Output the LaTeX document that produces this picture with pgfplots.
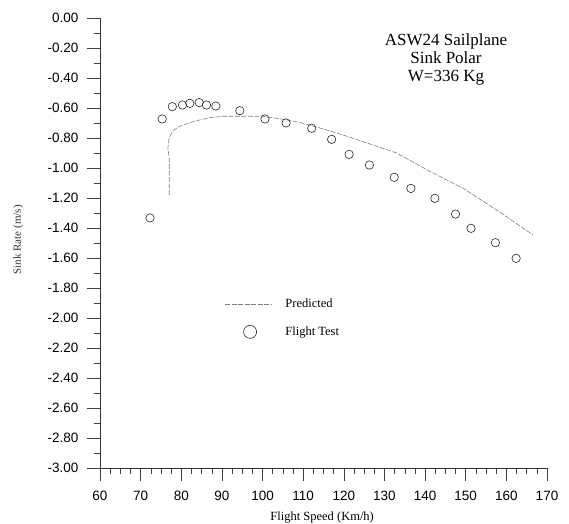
\documentclass[border=0pt]{standalone}
\usepackage{pgfplots}
\pgfplotsset{compat=1.18}
\usepackage{fontspec}
\setmainfont{Liberation Serif}
\newfontfamily\arialfont{Liberation Sans}
\usetikzlibrary{calc}

\pgfplotstableread{
speed sink
77.05 -1.18
77.05 -0.93
76.70 -0.87
77.00 -0.80
78.00 -0.75
79.70 -0.72
83.00 -0.69
87.00 -0.664
90.30 -0.655
100.0 -0.655
105.0 -0.675
109.0 -0.695
115.0 -0.74
121.0 -0.79
127.0 -0.845
133.0 -0.90
141.0 -1.02
149.4 -1.136
157.6 -1.28
166.5 -1.445
}\predicted

\pgfplotstableread{
speed sink
72.3 -1.333
75.3 -0.673
77.8 -0.591
80.3 -0.580
82.1 -0.569
84.4 -0.564
86.2 -0.580
88.5 -0.587
94.4 -0.618
100.6 -0.673
105.8 -0.700
112.1 -0.735
117.0 -0.809
121.3 -0.909
126.3 -0.980
132.4 -1.062
136.5 -1.136
142.4 -1.202
147.5 -1.307
151.3 -1.402
157.3 -1.498
162.4 -1.602
}\flighttest

\begin{document}
\begin{tikzpicture}
\begin{axis}[
    scale only axis,
    width=447pt, height=450pt,
    xmin=60, xmax=170,
    ymin=-3, ymax=0,
    axis lines=left,
    axis line style={-, black!80, line width=0.6pt},
    tick align=outside,
    xtick={60,70,...,170},
    ytick={-3,-2.8,...,0.01},
    minor x tick num=3,
    minor y tick num=1,
    major tick length=13pt,
    minor tick length=6pt,
    tick style={black!75, line width=0.5pt},
    /pgf/number format/assume math mode=true,
    ticklabel style={font=\arialfont\fontsize{13.5}{13.5}\selectfont},
    yticklabel style={xshift=-5pt, /pgf/number format/.cd, fixed, fixed zerofill, precision=2},
    xticklabel style={yshift=-7pt},
    xlabel={Flight Speed (Km/h)},
    xlabel style={at={(axis description cs:0.497,-0.109)}, anchor=center,
        font=\fontsize{12.5}{13}\selectfont},
    ylabel={Sink Rate (m/s)},
    ylabel style={at={(axis description cs:-0.183,0.507)}, anchor=center,
        font=\fontsize{11}{12}\selectfont, black!80},
    clip=false,
    legend style={at={(axis description cs:0.272,0.383)}, anchor=north west,
        draw=none, fill=none, row sep=15pt, column sep=13pt,
        font=\fontsize{12.5}{13}\selectfont,
        nodes={inner sep=1pt}},
    legend cell align=left,
]
\addplot[gray, line width=0.6pt, dash pattern=on 5pt off 1.5pt,
    legend image code/.code={\draw[gray, line width=0.6pt, dash pattern=on 5pt off 1.5pt] (0pt,0pt) -- (46pt,0pt);}]
    table[x=speed, y=sink] {\predicted};
\addlegendentry{Predicted}
\addplot[only marks, mark=o, mark size=4.2pt, mark options={black!85, line width=0.6pt},
    legend image code/.code={\draw[black!85, line width=0.6pt] (25pt,0pt) circle (6.5pt);}]
    table[x=speed, y=sink] {\flighttest};
\addlegendentry{Flight Test}
\node[align=center, font=\fontsize{17}{18}\selectfont] at (axis description cs:0.774,0.909)
    {ASW24 Sailplane\\Sink Polar\\W=336 Kg};
\coordinate (ll) at (rel axis cs:0,0);
\coordinate (ur) at (rel axis cs:1,1);
\end{axis}
\pgfresetboundingbox
\path[use as bounding box] ($(ll)+(-100pt,-55pt)$) rectangle ($(ur)+(22pt,18pt)$);
\end{tikzpicture}
\end{document}
